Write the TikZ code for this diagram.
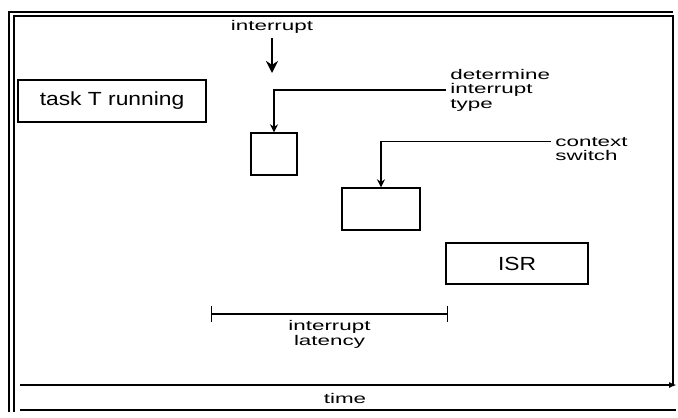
\documentclass[tikz,border=0pt]{standalone}
\usepackage{fontspec}
\setmainfont{Liberation Sans}
\newfontfamily\lblfont[FakeStretch=1.6]{Liberation Sans}
\newfontfamily\boxfont[FakeStretch=1.2]{Liberation Sans}
\usetikzlibrary{arrows.meta}

\tikzset{
  box/.style={draw, rectangle, line width=0.7pt, inner sep=0pt, minimum height=21pt},
  boxtext/.style={font=\boxfont\fontsize{9.5}{11}\selectfont},
  lbl/.style={font=\lblfont\fontsize{7}{7.2}\selectfont, inner sep=2pt},
  pointer/.style={line width=0.6pt, -{Stealth[length=4pt, width=4pt]}},
}

\begin{document}
\begin{tikzpicture}[x=0.5pt, y=-0.5pt]
	\useasboundingbox (0,0) rectangle (678,417);
	
	% frame
	\draw[line width=0.9pt] (9,412) -- (9,12) -- (673,12);
	\draw[line width=0.9pt] (14,412) -- (14,16) -- (673,16) -- (673,385);
	
	% time axis
	\coordinate (t0) at (20,385);
	\coordinate (t1) at (677,385);
	\coordinate (b0) at (20,410);
	\coordinate (b1) at (676,410);
	\draw[line width=0.8pt, -{Latex[length=4pt]}] (t0) -- (t1);
	\draw[line width=0.8pt] (b0) -- (b1);
	\node[lbl] (time) at (345,398) {time};
	
	\node[box, boxtext, minimum width=94pt] (task) at (112,101) {task T running};
	
	\node[box, minimum width=23pt] (dtbox) at (274,154) {};
	
	\node[box, minimum width=39pt] (csbox) at (381,209) {};
	
	\node[box, boxtext, minimum width=71pt, minimum height=20.5pt] (isr) at (517,263.5) {ISR};
	
	\node[lbl] (intr) at (272,27) {interrupt};
	\coordinate (intrend) at (272,73);
	
	\node[lbl, anchor=west, align=left] (dt) at (446,90) {determine\\interrupt\\type};
	
	\node[lbl, anchor=west, align=left] (cs) at (551,149) {context\\switch};
	
	\coordinate (latL) at (211,314);
	\coordinate (latR) at (448,314);
	
	\draw[line width=1.1pt, -{Stealth[length=6pt, width=6pt]}] (intr) -- (intrend);
	
	\draw[pointer] (dt.west) -| (dtbox.north);
	
	\draw[pointer] ([yshift=3.6pt]cs.west) -| (csbox.north);
	
	\draw[line width=0.6pt, {Bar[width=8pt]}-{Bar[width=8pt]}] (latL) -- node[lbl, below=1pt, align=center] (lat) {interrupt\\latency} (latR);
\end{tikzpicture}
\end{document}
